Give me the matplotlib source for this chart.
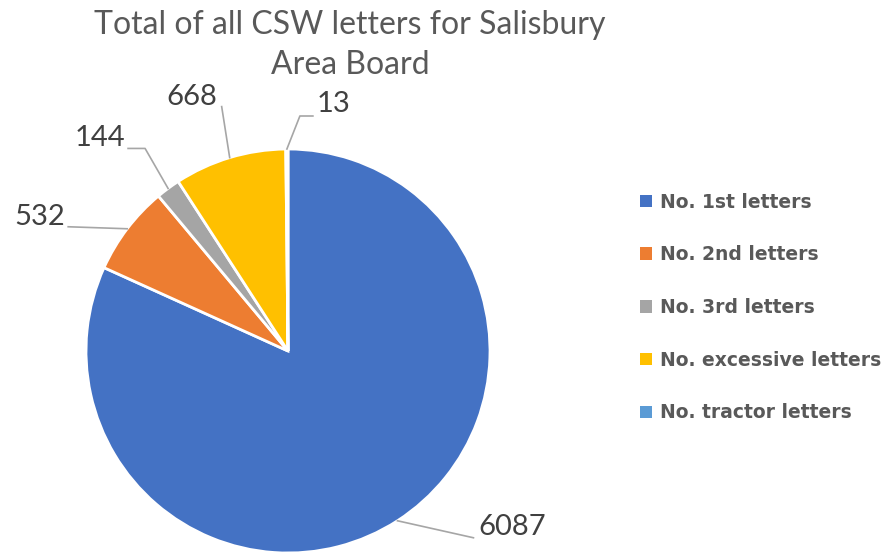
import numpy as np
import matplotlib.pyplot as plt
from matplotlib.patches import Patch

# data
categories = ["No. 1st letters", "No. 2nd letters", "No. 3rd letters",
              "No. excessive letters", "No. tractor letters"]
values = [6087, 532, 144, 668, 13]
colors = ["#4472C4", "#ED7D31", "#A5A5A5", "#FFC000", "#5B9BD5"]

# leader line points and text position, as pixel offsets from the wedge edge (x right, y down)
leader_pts = [
    [(76, 17)],
    [(-59, -2)],
    [(-23, -40), (-40, -40)],
    [(-8, -51)],
    [(13, -33), (26, -33)],
]
text_off = [(115, 6), (-87, -12), (-68, -50), (-38, -61), (47, -45)]

W, H = 896, 552
fig = plt.figure(figsize=(W / 100, H / 100), dpi=100)
ax = fig.add_axes([0, 0, 1, 1])

cx, cy, r = 288, H - 351, 202
wedges, _ = ax.pie(values, colors=colors, startangle=90, counterclock=False,
                   center=(cx, cy), radius=r, frame=True,
                   wedgeprops=dict(edgecolor="white", linewidth=2))
ax.set_xlim(0, W)
ax.set_ylim(0, H)
ax.set_aspect("equal")
ax.axis("off")

for w, v, pts, toff in zip(wedges, values, leader_pts, text_off):
    mid = np.deg2rad((w.theta1 + w.theta2) / 2)
    ax0 = cx + r * np.cos(mid)
    ay0 = cy + r * np.sin(mid)
    xs = [ax0] + [ax0 + p[0] for p in pts]
    ys = [ay0] + [ay0 - p[1] for p in pts]
    ax.plot(xs, ys, color="#A6A6A6", lw=1.2)
    ax.text(ax0 + toff[0], ay0 - toff[1], str(v), ha="center", va="center",
            fontsize=21, color="#404040", family="Lato")

ax.text(350, H - 45, "Total of all CSW letters for Salisbury\nArea Board",
        ha="center", va="center", fontsize=23, color="#595959",
        family="Lato", linespacing=1.45)

handles = [Patch(facecolor=c, edgecolor="none") for c in colors]
leg = ax.legend(handles, categories, loc="upper left",
                bbox_to_anchor=(632 / W, 1 - 185 / H), frameon=False,
                prop=dict(family="DejaVu Sans", weight="bold", size=13.5),
                handlelength=0.65, handleheight=0.65, handletextpad=0.45,
                labelspacing=1.8, borderaxespad=0)
for t in leg.get_texts():
    t.set_color("#595959")

fig.savefig("out.png", dpi=100)
